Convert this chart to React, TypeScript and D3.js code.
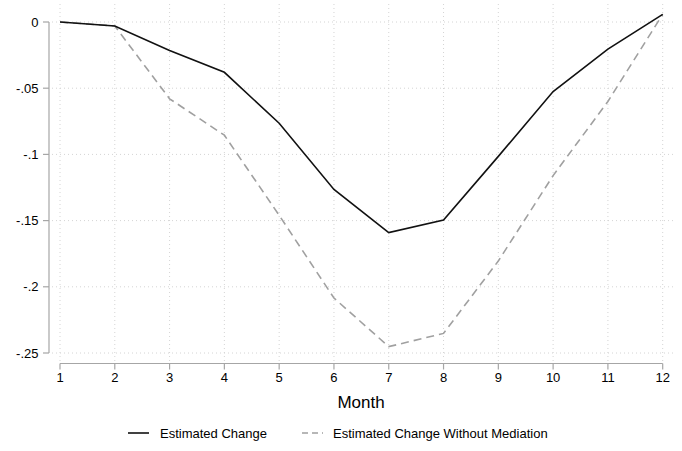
import React from "react";
import * as d3 from "d3";

const months = [1, 2, 3, 4, 5, 6, 7, 8, 9, 10, 11, 12];
const estimatedChange = [0, -0.003, -0.0215, -0.038, -0.0765, -0.1265, -0.159, -0.1495, -0.1015, -0.0525, -0.0205, 0.0058];
const withoutMediation = [0, -0.003, -0.058, -0.0855, -0.146, -0.2085, -0.2452, -0.2352, -0.1805, -0.116, -0.06, 0.0058];
const yTicks = [0, -0.05, -0.1, -0.15, -0.2, -0.25];
const yTickLabels = ["0", "-.05", "-.1", "-.15", "-.2", "-.25"];
const seriesNames = ["Estimated Change", "Estimated Change Without Mediation"];

export default function App() {
  const W = 682, H = 451;
  const x = d3.scaleLinear().domain([1, 12]).range([60, 662.7]);
  const y = d3.scaleLinear().domain([0, -0.25]).range([22, 353]);
  const line = d3.line<number>().x((_, i) => x(months[i])).y((d) => y(d));
  const font = "'Liberation Sans', Arial, Helvetica, sans-serif";
  const axisColor = "#a6a6a6";
  const gridColor = "#d4d4d4";
  return (
    <svg width={W} height={H} style={{ position: "absolute", left: 0, top: 0, background: "#fff" }} fontFamily={font}>
      <rect x={0} y={0} width={W} height={H} fill="#fff" />
      {/* grid */}
      {yTicks.map((t) => (
        <line key={"gy" + t} x1={52} x2={673} y1={y(t)} y2={y(t)} stroke={gridColor} strokeWidth={1} strokeDasharray="1,3" />
      ))}
      {months.map((m) => (
        <line key={"gx" + m} x1={x(m)} x2={x(m)} y1={4} y2={362} stroke={gridColor} strokeWidth={1} strokeDasharray="1,3" />
      ))}
      {/* y axis */}
      <line x1={49} x2={49} y1={y(0)} y2={y(-0.25)} stroke={axisColor} strokeWidth={1.2} />
      {yTicks.map((t, i) => (
        <g key={"yt" + t}>
          <line x1={43} x2={49} y1={y(t)} y2={y(t)} stroke={axisColor} strokeWidth={1.2} />
          <text x={38.5} y={y(t)} dy="0.35em" textAnchor="end" fontSize={13} fill="#000">{yTickLabels[i]}</text>
        </g>
      ))}
      {/* x axis */}
      <line x1={x(1)} x2={x(12)} y1={363.5} y2={363.5} stroke={axisColor} strokeWidth={1.2} />
      {months.map((m) => (
        <g key={"xt" + m}>
          <line x1={x(m)} x2={x(m)} y1={363.5} y2={369.5} stroke={axisColor} strokeWidth={1.2} />
          <text x={x(m)} y={382} textAnchor="middle" fontSize={13} fill="#000">{m}</text>
        </g>
      ))}
      <text x={361} y={408} textAnchor="middle" fontSize={17} fill="#000">Month</text>
      {/* lines */}
      <path d={line(withoutMediation) || ""} fill="none" stroke="#a0a0a0" strokeWidth={1.6} strokeDasharray="8,5" />
      <path d={line(estimatedChange) || ""} fill="none" stroke="#111" strokeWidth={1.6} />
      {/* legend */}
      <line x1={128} x2={149} y1={433} y2={433} stroke="#111" strokeWidth={1.6} />
      <text x={160} y={438} fontSize={13} fill="#000">{seriesNames[0]}</text>
      <line x1={302} x2={323} y1={433} y2={433} stroke="#a0a0a0" strokeWidth={1.6} strokeDasharray="6,4" />
      <text x={333} y={438} fontSize={13} fill="#000">{seriesNames[1]}</text>
    </svg>
  );
}
